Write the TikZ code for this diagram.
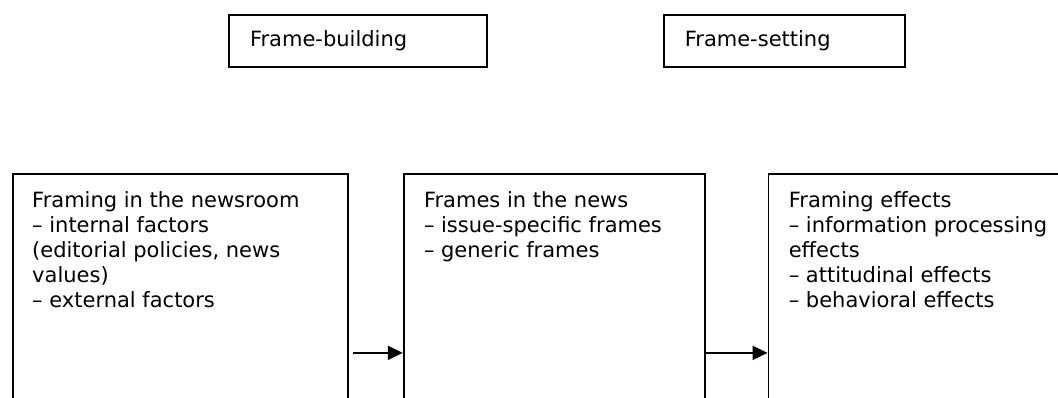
\documentclass[tikz,border=0pt]{standalone}
\usepackage{fontspec}
\setmainfont{DejaVu Sans}
\usetikzlibrary{positioning,arrows.meta}

\begin{document}
\begin{tikzpicture}[x=1pt, y=1pt,
  every node/.style = {font = \fontsize{21}{25}\selectfont},
  stage/.style = {draw, line width = 1.8pt, shape = rectangle, minimum width = 258pt, minimum height = 52pt, text width = 216pt, inner xsep = 21pt, align = left},
  column/.style = {draw, line width = 1.8pt, shape = rectangle, minimum height = 358pt, anchor = north west},
  coltext/.style = {inner sep = 0pt, align = left},
  flow/.style = {-{Triangle[length = 15pt, width = 14pt]}, line width = 1.8pt}]
\useasboundingbox (0,0) rectangle (1058,398);
\clip (0,0) rectangle (1058,398);
\node[stage] (build) at (358,357) {Frame-building};
\node[stage, minimum width = 241pt, text width = 199pt, right = 175pt of build] (setting) {Frame-setting};
\node[column, minimum width = 335pt] (room) at (12,225) {};
\node[column, minimum width = 301pt, right = 54pt of room] (news) {};
\node[column, minimum width = 330pt, right = 62pt of news] (effects) {};
\node[coltext, below right = 18pt and 20pt of room.north west] (roomtext) {Framing in the newsroom\\– internal factors\\(editorial policies, news\\values)\\– external factors};
\node[coltext, below right = 18pt and 21pt of news.north west] (newstext) {Frames in the news\\– issue-specific frames\\– generic frames};
\node[coltext, below right = 18pt and 21pt of effects.north west] (effectstext) {Framing effects\\– information processing\\effects\\– attitudinal effects\\– behavioral effects};
\draw[flow, shorten <= 4pt] (room.east) -- (news.west);
\draw[flow] (news.east) -- (effects.west);
\end{tikzpicture}
\end{document}
